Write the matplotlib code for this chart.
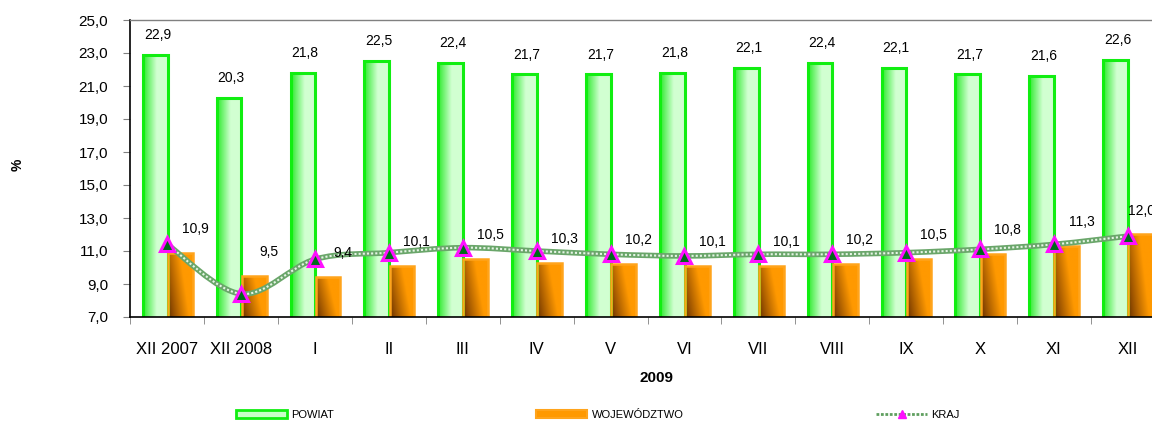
import numpy as np
import matplotlib
matplotlib.use("Agg")
import matplotlib.pyplot as plt
from matplotlib.path import Path
from matplotlib.patches import PathPatch, Patch
from matplotlib.lines import Line2D
from matplotlib.ticker import FuncFormatter

plt.rcParams['font.family'] = ['Liberation Sans', 'DejaVu Sans']

categories = ["XII 2007", "XII 2008", "I", "II", "III", "IV", "V", "VI",
              "VII", "VIII", "IX", "X", "XI", "XII"]
powiat = [22.9, 20.3, 21.8, 22.5, 22.4, 21.7, 21.7, 21.8, 22.1, 22.4, 22.1, 21.7, 21.6, 22.6]
wojewodztwo = [10.9, 9.5, 9.4, 10.1, 10.5, 10.3, 10.2, 10.1, 10.1, 10.2, 10.5, 10.8, 11.3, 12.0]
kraj = [11.4, 8.4, 10.5, 10.9, 11.2, 11.0, 10.8, 10.7, 10.8, 10.8, 10.9, 11.1, 11.4, 11.9]
series_names = ["POWIAT", "WOJEWÓDZTWO", "KRAJ"]
year_label = "2009"
y_label = "%"
y_ticks = [7.0, 9.0, 11.0, 13.0, 15.0, 17.0, 19.0, 21.0, 23.0, 25.0]

YMIN, YMAX = 7.0, 25.0

fig = plt.figure(figsize=(11.52, 4.23), dpi=100)
ax = fig.add_axes([130.4 / 1152, 1 - 317 / 423, (1164.7 - 130.4) / 1152, (317 - 20) / 423])

x = np.arange(len(categories))
bw = 0.335
g_bars = ax.bar(x - 0.165, powiat, width=bw, facecolor='none', edgecolor='#11ee11',
                linewidth=2.2, zorder=2)
o_bars = ax.bar(x + 0.175, wojewodztwo, width=bw, facecolor='none', edgecolor='#ffa41c',
                linewidth=1.8, zorder=2)

# gradients
n = 64
u = np.linspace(0, 1, n)
uu, vv = np.meshgrid(u, u)
c_dark_g = np.array([0.18, 0.92, 0.18])
c_light_g = np.array([0.82, 1.0, 0.82])
fg = np.clip(uu / 0.55, 0, 1)[..., None]
img_g = c_dark_g + (c_light_g - c_dark_g) * fg

c_dark_o = np.array([0.40, 0.18, 0.0])
c_or = np.array([1.0, 0.60, 0.0])
fo = np.clip(uu * 1.15 + vv * 0.45, 0, 1) ** 0.9
img_o = c_dark_o + (c_or - c_dark_o) * fo[..., None]

for bars, img in ((g_bars, img_g), (o_bars, img_o)):
    for r in bars:
        x0 = r.get_x()
        w = r.get_width()
        top = r.get_y() + r.get_height()
        im = ax.imshow(img, extent=(x0, x0 + w, YMIN, top), origin='lower',
                       aspect='auto', zorder=1.9, interpolation='bilinear')
        im.set_clip_path(r)

# smoothed KRAJ line (Catmull-Rom style bezier from data points)
pts = np.column_stack([x, kraj]).astype(float)
verts = [tuple(pts[0])]
codes = [Path.MOVETO]
for i in range(len(pts) - 1):
    p0 = pts[i - 1] if i > 0 else pts[i]
    p1 = pts[i]
    p2 = pts[i + 1]
    p3 = pts[i + 2] if i + 2 < len(pts) else pts[i + 1]
    c1 = p1 + (p2 - p0) / 6.0
    c2 = p2 - (p3 - p1) / 6.0
    verts += [tuple(c1), tuple(c2), tuple(p2)]
    codes += [Path.CURVE4] * 3
path = Path(verts, codes)
ax.add_patch(PathPatch(path, fill=False, edgecolor='#6aa66a', linewidth=4.0, zorder=3,
                       capstyle='round'))
ax.add_patch(PathPatch(path, fill=False, edgecolor='#e6f4e6', linewidth=1.5, zorder=3.1,
                       linestyle=(0, (1.0, 1.0))))
ax.plot(x, kraj, linestyle='none', marker='^', markersize=10, markerfacecolor='#006a1a',
        markeredgecolor='#ff10ff', markeredgewidth=2.2, zorder=4)

# value labels
for xi, v in zip(x - 0.165, powiat):
    ax.text(xi + 0.03, v + 1.2, f"{v:.1f}".replace('.', ','), ha='center', va='center',
            fontsize=10, zorder=5, clip_on=False)
x_right_limit = len(categories) - 0.5 - 0.32
for xi, v in zip(x + 0.175, wojewodztwo):
    ax.text(min(xi + 0.2, x_right_limit), v + 1.45, f"{v:.1f}".replace('.', ','),
            ha='center', va='center', fontsize=10, zorder=5, clip_on=False)

ax.set_xlim(-0.5, len(categories) - 0.5)
ax.set_ylim(YMIN, YMAX)
ax.set_yticks(y_ticks)
ax.yaxis.set_major_formatter(FuncFormatter(lambda v, p: f"{v:.1f}".replace('.', ',')))
ax.set_xticks(x)
ax.set_xticklabels(categories, fontsize=12)
ax.set_xticks(np.arange(len(categories) + 1) - 0.5, minor=True)
ax.tick_params(axis='x', which='major', length=0, pad=18)
ax.tick_params(axis='x', which='minor', length=5, color='#808080', direction='out')
ax.tick_params(axis='y', length=5, color='#808080', pad=11, labelsize=11)
for s in ax.spines.values():
    s.set_color('black')
    s.set_linewidth(1.2)
ax.spines['top'].set_color('#808080')
ax.spines['top'].set_linewidth(1.0)

fig.text(18 / 1152, 1 - 165 / 423, y_label, rotation=90, ha='center', va='center',
         fontsize=10, fontweight='bold')
fig.text(657 / 1152, 1 - 378 / 423, year_label, ha='center', va='center',
         fontsize=11, fontweight='bold')

# legends
h1 = Patch(facecolor='#c8ffc8', edgecolor='#11ee11', linewidth=2)
h2 = Patch(facecolor='#ff9900', edgecolor='#ffa41c', linewidth=1.5)
h3 = Line2D([], [], color='#5f9f5f', linestyle=(0, (1, 0.6)), linewidth=2, marker='^',
            markersize=6, markerfacecolor='#ff10ff', markeredgecolor='#ff10ff')
ly = 1 - 415 / 423
for h, name, lx in ((h1, series_names[0], 236), (h2, series_names[1], 536),
                    (h3, series_names[2], 876)):
    fig.legend([h], [name], loc='center left', bbox_to_anchor=(lx / 1152, ly),
               frameon=False, fontsize=8, handlelength=4.6, handleheight=0.7,
               handletextpad=0.4, borderpad=0, borderaxespad=0)

fig.savefig("out.png", dpi=100)
